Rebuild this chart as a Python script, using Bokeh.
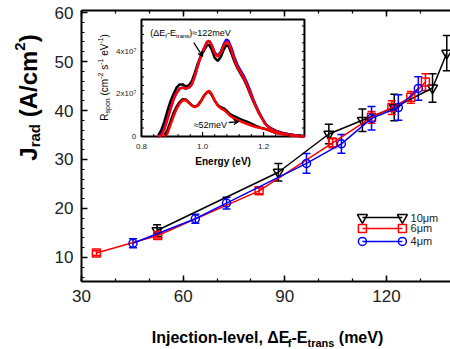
import math
from bokeh.plotting import figure
from bokeh.layouts import row, column
from bokeh.models import (Range1d, LinearAxis, SingleIntervalTicker, Whisker, TeeHead,
                          ColumnDataSource, Label, Arrow, VeeHead)
from bokeh.embed import file_html
from bokeh.resources import INLINE

# ---------------- main data ----------------
x_10um = [52.3, 88.1, 103.0, 112.9, 122.3, 133.6, 137.8]
y_10um = [15.5, 27.4, 35.2, 38.0, 40.6, 44.6, 51.7]
e_10um = [1.2, 1.8, 2.0, 2.3, 2.7, 2.9, 3.6]

x_6um = [34.4, 52.5, 82.4, 104.1, 115.6, 121.6, 127.2, 131.5]
y_6um = [10.9, 14.5, 23.6, 33.4, 38.6, 40.6, 42.7, 45.8]
e_6um = [0.5, 0.5, 0.6, 1.0, 1.2, 1.4, 1.2, 1.7]

x_4um = [45.2, 63.6, 72.8, 96.4, 106.7, 115.6, 123.5, 129.4]
y_4um = [12.9, 17.9, 21.1, 29.2, 33.2, 38.4, 40.6, 44.5]
e_4um = [0.9, 0.9, 1.2, 2.0, 1.9, 2.4, 2.6, 2.4]

series_labels = ["10\u03bcm", "6\u03bcm", "4\u03bcm"]

# ---------------- inset spectra (R_spon in units of 1e7) ----------------
E_up = [0.855, 0.865, 0.875, 0.885, 0.895, 0.905, 0.915, 0.925, 0.935, 0.945, 0.955,
        0.965, 0.975, 0.985, 0.995, 1.005, 1.015, 1.022, 1.03, 1.04, 1.05, 1.06, 1.07,
        1.078, 1.085, 1.095, 1.105, 1.115, 1.125, 1.135, 1.145, 1.155, 1.165, 1.175,
        1.185, 1.195, 1.205, 1.215, 1.225, 1.24, 1.26, 1.28, 1.30, 1.32, 1.334]
R_up_red = [0.0, 0.05, 0.35, 0.8, 1.3, 1.75, 2.05, 2.25, 2.3, 2.25, 2.3,
            2.45, 2.85, 3.35, 3.8, 4.15, 4.45, 4.5, 4.3, 3.9, 3.75, 3.95, 4.3,
            4.45, 4.4, 4.05, 3.6, 3.25, 3.0, 2.75, 2.45, 2.1, 1.75, 1.4,
            1.1, 0.85, 0.6, 0.45, 0.35, 0.25, 0.15, 0.1, 0.06, 0.03, 0.0]
R_up_black = [0.05, 0.3, 0.7, 1.2, 1.65, 2.0, 2.3, 2.45, 2.45, 2.35, 2.4,
              2.6, 3.0, 3.45, 3.8, 4.05, 4.3, 4.3, 4.1, 3.7, 3.55, 3.75, 4.1,
              4.3, 4.25, 3.9, 3.5, 3.2, 2.95, 2.7, 2.4, 2.05, 1.7, 1.4,
              1.1, 0.85, 0.62, 0.48, 0.38, 0.28, 0.18, 0.12, 0.07, 0.04, 0.02]
R_up_blue = [0.0, 0.1, 0.4, 0.85, 1.3, 1.75, 2.05, 2.25, 2.3, 2.25, 2.3,
             2.45, 2.85, 3.35, 3.8, 4.15, 4.45, 4.5, 4.3, 3.95, 3.8, 4.0, 4.35,
             4.55, 4.5, 4.15, 3.7, 3.35, 3.1, 2.85, 2.55, 2.2, 1.8, 1.45,
             1.15, 0.88, 0.62, 0.46, 0.35, 0.25, 0.15, 0.1, 0.05, 0.03, 0.0]

E_lo = [0.875, 0.885, 0.895, 0.905, 0.915, 0.925, 0.935, 0.945, 0.955, 0.965, 0.975,
        0.985, 0.995, 1.005, 1.015, 1.022, 1.03, 1.04, 1.05, 1.06, 1.07, 1.08, 1.09,
        1.10, 1.115, 1.13, 1.145, 1.16, 1.175, 1.19, 1.205, 1.22, 1.235, 1.25, 1.27,
        1.29, 1.31, 1.334]
R_lo_red = [0.0, 0.15, 0.55, 0.95, 1.3, 1.55, 1.7, 1.72, 1.6, 1.45, 1.38,
            1.45, 1.65, 1.9, 2.1, 2.15, 2.0, 1.7, 1.45, 1.32, 1.25, 1.12, 0.98,
            0.88, 0.78, 0.68, 0.6, 0.52, 0.45, 0.4, 0.35, 0.28, 0.2, 0.14, 0.09,
            0.05, 0.03, 0.0]
R_lo_black = [0.05, 0.3, 0.7, 1.1, 1.4, 1.62, 1.75, 1.74, 1.6, 1.46, 1.4,
              1.48, 1.68, 1.92, 2.08, 2.1, 1.95, 1.68, 1.48, 1.38, 1.32, 1.2, 1.05,
              0.98, 0.88, 0.78, 0.7, 0.6, 0.5, 0.42, 0.36, 0.28, 0.2, 0.15, 0.1,
              0.06, 0.04, 0.02]

inset_E_ticks = [0.8, 1.0, 1.2]
inset_E_labels = ["0.8", "1.0", "1.2"]
inset_R_ticks = [0, 2, 4]
inset_R_labels = ["0", "2x10\u2077", "4x10\u2077"]

# ---------------- geometry ----------------
YW = 45                      # width of the strip holding the y title
W, H = 450 - YW, 310         # main figure
XH = 349 - H                 # strip holding the x title
ML, MB, MT = 36, 29, 10
X0, X1 = 30.0, 138.9
Y0, Y1 = 5.1, 60.41
FW = W - ML
FH = H - MB - MT
SX = FW / (X1 - X0)
SY = FH / (Y1 - Y0)

# inset box in main data coordinates and its own value ranges
XL, XR, YB, YT = 47.7, 95.8, 34.69, 58.57
EMIN, EMAX, RMIN, RMAX = 0.8, 1.334, 0.0, 5.5
KX = (EMAX - EMIN) / (XR - XL)
KY = (RMAX - RMIN) / (YT - YB)

FONT = "Liberation Sans"
RED = "#ff0000"
BLUE = "#0000ff"

p_main = figure(width=W, height=H, x_range=Range1d(X0, X1), y_range=Range1d(Y0, Y1),
                output_backend="svg", toolbar_location=None,
                min_border_left=ML, min_border_right=0, min_border_top=MT,
                min_border_bottom=MB)
p = p_main
p.outline_line_color = None
p.xgrid.visible = False
p.ygrid.visible = False
p.background_fill_color = "white"
p.border_fill_color = "white"

p.extra_x_ranges = {"ix": Range1d(EMIN - (XL - X0) * KX, EMAX + (X1 - XR) * KX)}
p.extra_y_ranges = {"iy": Range1d(RMIN - (YB - Y0) * KY, RMAX + (Y1 - YT) * KY)}


def style_axis(ax, labels=True):
    ax.axis_line_width = 2
    ax.axis_line_color = "black"
    ax.major_tick_in = 6
    ax.major_tick_out = 0
    ax.minor_tick_in = 3
    ax.minor_tick_out = 0
    ax.major_tick_line_color = "black"
    ax.minor_tick_line_color = "black"
    ax.major_tick_line_width = 1.5
    ax.minor_tick_line_width = 1.2
    ax.major_label_text_font = FONT
    if labels:
        ax.major_label_text_font_size = "17px"
        ax.major_label_text_color = "#222222"
    else:
        ax.major_label_text_font_size = "1px"
        ax.major_label_text_alpha = 0.0
        ax.major_label_standoff = 0


xax = p.xaxis[0]
xax.ticker = SingleIntervalTicker(interval=30, num_minor_ticks=3)
style_axis(xax)
xax.major_label_standoff = 8
yax = p.yaxis[0]
yax.ticker = SingleIntervalTicker(interval=10, num_minor_ticks=5)
style_axis(yax)
yax.major_label_standoff = 8
tax = LinearAxis(ticker=SingleIntervalTicker(interval=30, num_minor_ticks=3))
style_axis(tax, labels=False)
p.add_layout(tax, "above")

# ---------------- main series ----------------
series = [
    (x_10um, y_10um, e_10um, "black", "inverted_triangle", 10),
    (x_6um, y_6um, e_6um, RED, "square", 8),
    (x_4um, y_4um, e_4um, BLUE, "circle", 8),
]
for xs, ys, es, col, mk, sz in series:
    src = ColumnDataSource(dict(x=xs, upper=[y + e for y, e in zip(ys, es)],
                                lower=[y - e for y, e in zip(ys, es)]))
    p.add_layout(Whisker(source=src, base="x", upper="upper", lower="lower",
                         line_color=col, line_width=1.5,
                         upper_head=TeeHead(size=8, line_color=col, line_width=1.5),
                         lower_head=TeeHead(size=8, line_color=col, line_width=1.5)))
    p.line(xs, ys, line_color=col, line_width=1.5)
    p.scatter(xs, ys, marker=mk, size=sz, fill_color=None, line_color=col, line_width=1.5)

# ---------------- legend (drawn as keys) ----------------
leg_rows = [18.16, 15.92, 13.27]
leg_x0, leg_x1, leg_tx = 112.9, 124.7, 127.1
for (xs, ys, es, col, mk, sz), ly, lab in zip(series, leg_rows, series_labels):
    p.line([leg_x0, leg_x1], [ly, ly], line_color=col, line_width=1.5)
    p.scatter([leg_x0, leg_x1], [ly, ly], marker=mk, size=sz, fill_color=None,
              line_color=col, line_width=1.5)
    p.add_layout(Label(x=leg_tx, y=ly, text=lab, text_font=FONT, text_font_size="11px",
                       text_baseline="middle", text_align="left", text_color="#222222"))

# ---------------- inset ----------------
IR = dict(x_range_name="ix", y_range_name="iy")
p.quad(left=[EMIN], right=[EMAX], bottom=[RMIN], top=[RMAX], fill_color="white",
       line_color="black", line_width=2, **IR)

p.line(E_up, R_up_black, line_color="black", line_width=2.5, **IR)
p.line(E_lo, R_lo_black, line_color="black", line_width=2.5, **IR)
p.line(E_up, R_up_blue, line_color=BLUE, line_width=2.5, **IR)
p.line(E_up, R_up_red, line_color=RED, line_width=2.5, **IR)
p.line(E_lo, R_lo_red, line_color=RED, line_width=2.5, **IR)

# inset ticks (inward)
dE = 1.0 * KX / SX  # one pixel in E units
dR = 1.0 * KY / SY  # one pixel in R units
e_minor = [round(EMIN + 0.04 * i, 3) for i in range(1, 14) if EMIN + 0.04 * i < EMAX - 0.005]
r_minor = [round(0.4 * i, 2) for i in range(1, 14) if 0.4 * i < RMAX - 0.05]
p.segment(x0=e_minor, y0=[RMIN] * len(e_minor), x1=e_minor, y1=[RMIN + 2.5 * dR] * len(e_minor),
          line_color="black", line_width=1, **IR)
p.segment(x0=inset_E_ticks, y0=[RMIN] * 3, x1=inset_E_ticks, y1=[RMIN + 4.5 * dR] * 3,
          line_color="black", line_width=1.2, **IR)
p.segment(x0=[EMIN] * len(r_minor), y0=r_minor, x1=[EMIN + 2.5 * dE] * len(r_minor), y1=r_minor,
          line_color="black", line_width=1, **IR)
p.segment(x0=[EMAX] * len(r_minor), y0=r_minor, x1=[EMAX - 2.5 * dE] * len(r_minor), y1=r_minor,
          line_color="black", line_width=1, **IR)


def fx_main(x):
    return (x - X0) * SX


def fy_main(y):
    return (y - Y0) * SY


def fx_in(E):
    return fx_main(XL + (E - EMIN) / KX)


def fy_in(R):
    return fy_main(YB + (R - RMIN) / KY)


BOLD_W = {' ': 278, '(': 333, ')': 333, '-': 333, ',': 278, '/': 278, '.': 278, 'A': 722,
          'E': 667, 'I': 278, 'J': 556, 'V': 667, 'a': 556, 'c': 556, 'd': 611, 'e': 556,
          'f': 333, 'g': 611, 'i': 278, 'j': 278, 'l': 278, 'm': 889, 'n': 611, 'o': 611,
          'r': 389, 's': 556, 't': 333, 'v': 556, 'y': 556, '\u0394': 612}
REG_W = {' ': 278, '(': 333, ')': 333, '-': 333, '.': 278, 'E': 667, 'R': 722, 'V': 667,
         'a': 556, 'c': 500, 'e': 556, 'f': 278, 'm': 833, 'n': 556, 'o': 556, 'p': 556,
         'r': 333, 's': 500, 't': 278, '\u0394': 668, '\u2248': 584}


def tw(s, bold):
    d = BOLD_W if bold else REG_W
    return sum(d.get(ch, 556) for ch in s) / 1000.0


def rich(fig, pieces, fx, fy, angle=0.0, bold=True, align="left", color="black"):
    total = sum(tw(t, bold) * sz for t, sz, _ in pieces)
    adv = 0.0 if align == "left" else -total / 2.0
    c, s = math.cos(angle), math.sin(angle)
    for t, sz, sh in pieces:
        lead = len(t) - len(t.lstrip(" "))
        if lead:
            adv += tw(" " * lead, bold) * sz
            t = t.lstrip(" ")
        fig.add_layout(Label(x=fx + adv * c - sh * s, y=fy + adv * s + sh * c,
                             x_units="screen", y_units="screen", text=t, angle=angle,
                             text_font=FONT, text_font_style="bold" if bold else "normal",
                             text_font_size=f"{sz}px", text_color=color,
                             text_baseline="alphabetic", text_align="left"))
        adv += tw(t, bold) * sz


# inset tick labels
for E, lab in zip(inset_E_ticks, inset_E_labels):
    p.add_layout(Label(x=fx_in(E), y=fy_in(-0.47), x_units="screen", y_units="screen",
                       text=lab, text_font=FONT, text_font_size="8px", text_color="#222222",
                       text_align="center", text_baseline="alphabetic"))
for R, lab in zip(inset_R_ticks, inset_R_labels):
    p.add_layout(Label(x=fx_in(0.783), y=fy_in(R), x_units="screen", y_units="screen",
                       text=lab, text_font=FONT, text_font_size="8px", text_color="#222222",
                       text_align="right", text_baseline="middle"))

# inset axis titles
rich(p, [("Energy (eV)", 10, 0)], fx_in(1.0675), fy_in(-1.18), bold=True, align="center")
rich(p, [("R", 10, 0), ("spon", 7, -2.5), (" (cm", 10, 0), ("-2", 7, 4), (" s", 10, 0),
         ("-1", 7, 4), (" eV", 10, 0), ("-1", 7, 4), (")", 10, 0)],
     fx_in(0.679), fy_in(2.78), angle=math.pi / 2, bold=False, align="center")

# inset annotations
rich(p, [("(\u0394E", 9, 0), ("f", 6, -2.5), ("-E", 9, 0), ("trans", 6, -2.5),
         (")\u2248122meV", 9, 0)], fx_in(0.829), fy_in(4.85), bold=False)
rich(p, [("\u224852meV", 9, 0)], fx_in(0.971), fy_in(0.52), bold=False)
p.add_layout(Arrow(x_start=fx_in(0.971), y_start=fy_in(4.42), x_end=fx_in(1.001), y_end=fy_in(3.76),
                   start_units="screen", end_units="screen", line_width=1.3,
                   end=VeeHead(size=5, line_color="black", fill_color="black", line_width=1)))
p.add_layout(Arrow(x_start=fx_in(1.086), y_start=fy_in(0.66), x_end=fx_in(1.119), y_end=fy_in(0.70),
                   start_units="screen", end_units="screen", line_width=1.3,
                   end=VeeHead(size=5, line_color="black", fill_color="black", line_width=1)))


# ---------------- axis-title strips ----------------
def strip(w, h):
    f = figure(width=w, height=h, x_range=Range1d(0, w), y_range=Range1d(0, h),
               output_backend="svg", toolbar_location=None, min_border=0,
               x_axis_type=None, y_axis_type=None)
    f.outline_line_color = None
    f.xgrid.visible = False
    f.ygrid.visible = False
    f.background_fill_color = "white"
    f.border_fill_color = "white"
    return f


p_ytitle = strip(YW, H)
rich(p_ytitle, [("J", 24, 0), ("rad", 15, -6), (" (A/cm", 24, 0), ("2", 15, 9), (")", 24, 0)],
     28, H - 126, angle=math.pi / 2, bold=True, align="center")

p_xtitle = strip(450, XH)
rich(p_xtitle, [("Injection-level, \u0394E", 16, 0), ("f", 11, -5), ("-E", 16, 0),
                ("trans", 11, -5), (" (meV)", 16, 0)],
     267, XH - (337 - H), bold=True, align="center")

layout = column(row(p_ytitle, p_main, spacing=0), p_xtitle, spacing=0)

open("out.html", "w").write(file_html(layout, INLINE))
